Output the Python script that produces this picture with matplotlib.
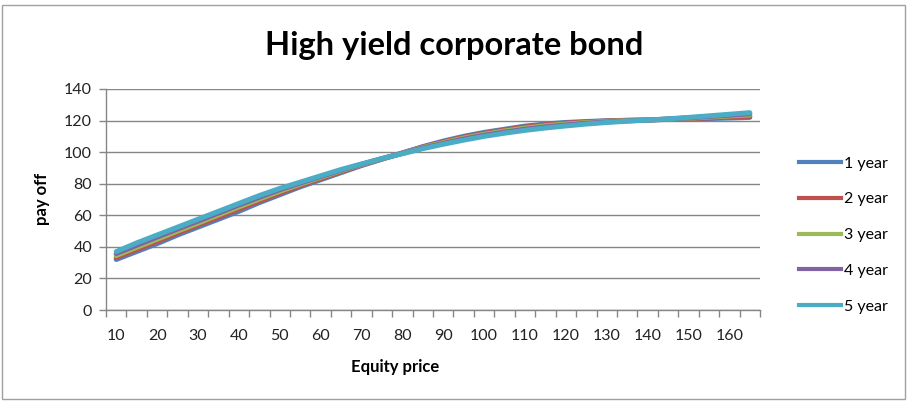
import matplotlib
matplotlib.use("Agg")
import matplotlib.pyplot as plt
from matplotlib.patches import Rectangle
from matplotlib.lines import Line2D
from matplotlib.ticker import MultipleLocator, FixedLocator

plt.rcParams['font.family'] = ['Lato', 'DejaVu Sans']

equity_price = [10, 15, 20, 25, 30, 35, 40, 45, 50, 55, 60, 65, 70, 75, 80, 85,
                90, 95, 100, 105, 110, 115, 120, 125, 130, 135, 140, 145, 150, 155, 160, 165]

year1 = [32, 37, 42, 47.5, 52.5, 57.5, 62.5, 68, 73, 78, 82.5, 87, 91.5, 95.5, 99.5, 103.5,
         107, 110, 112.5, 114.5, 116.5, 117.8, 118.8, 119.4, 119.9, 120.2, 120.4, 120.7, 121, 121.3, 121.6, 122]
year2 = [33.3, 38.3, 43.4, 48.7, 53.8, 58.8, 64, 69, 74, 78.8, 83.2, 87.6, 91.8, 95.7, 99.4, 103.2,
         106.5, 109.5, 111.9, 114, 115.9, 117.3, 118.4, 119.1, 119.7, 120.1, 120.4, 120.8, 121.2, 121.7, 122.2, 122.7]
year3 = [34.5, 39.7, 44.8, 50, 55, 60.2, 65.3, 70.3, 75.2, 79.7, 84, 88.2, 92.1, 95.8, 99.3, 102.9,
         106, 108.9, 111.3, 113.4, 115.2, 116.7, 117.8, 118.7, 119.4, 120, 120.4, 120.9, 121.5, 122.2, 122.9, 123.6]
year4 = [35.8, 41, 46.2, 51.3, 56.3, 61.4, 66.5, 71.4, 76.2, 80.4, 84.5, 88.6, 92.3, 95.9, 99.2, 102.6,
         105.5, 108.3, 110.7, 112.7, 114.5, 116, 117.2, 118.3, 119.1, 119.8, 120.3, 121, 121.7, 122.6, 123.4, 124.3]
year5 = [37, 42.5, 47.5, 52.5, 57.5, 62.5, 67.5, 72.5, 77, 81, 85, 89, 92.5, 96, 99, 102.2,
         105, 107.6, 110, 112, 113.8, 115.3, 116.6, 117.8, 118.8, 119.6, 120.3, 121.1, 122, 123, 124, 125]

series_names = ["1 year", "2 year", "3 year", "4 year", "5 year"]
series_values = [year1, year2, year3, year4, year5]
colors = ["#4F81BD", "#C0504D", "#9BBB59", "#8064A2", "#4BACC6"]
x_tick_labels = [10, 20, 30, 40, 50, 60, 70, 80, 90, 100, 110, 120, 130, 140, 150, 160]

W, H = 909, 404
fig = plt.figure(figsize=(W / 100, H / 100), dpi=100)
fig.patch.set_facecolor("white")

# outer chart border
fig.add_artist(Rectangle((2 / W, 1 - 399 / H), 903 / W, 394 / H, transform=fig.transFigure,
                         fill=False, edgecolor="#A0A0A0", linewidth=1.0))

left, right, top, bottom = 106, 760, 89, 310
ax = fig.add_axes([left / W, 1 - bottom / H, (right - left) / W, (bottom - top) / H])

grid_c = "#868686"
for i, (name, vals) in enumerate(zip(series_names, series_values)):
    ax.plot(equity_price, vals, color=colors[i], linewidth=3.6, label=name,
            solid_capstyle="round", zorder=3 + i)

ax.set_xlim(7.5, 167.5)
ax.set_ylim(0, 140)
ax.yaxis.set_major_locator(MultipleLocator(20))
ax.yaxis.grid(True, color=grid_c, linewidth=1.0)
ax.set_axisbelow(True)

ax.xaxis.set_major_locator(FixedLocator(x_tick_labels))
ax.set_xticklabels([str(v) for v in x_tick_labels])
ax.xaxis.set_minor_locator(FixedLocator([7.5 + 5 * k for k in range(33)]))
ax.tick_params(axis="x", which="major", length=0, pad=14, labelsize=11.5, labelcolor="#222222")
ax.tick_params(axis="x", which="minor", length=5, width=1, color=grid_c, direction="out")
ax.tick_params(axis="y", which="major", length=5, width=1, color=grid_c, pad=5,
               labelsize=11.5, labelcolor="#222222")

for s in ["top", "right"]:
    ax.spines[s].set_visible(False)
for s in ["left", "bottom"]:
    ax.spines[s].set_color(grid_c)
    ax.spines[s].set_linewidth(1.0)

fig.text(454 / W, 1 - 45 / H, "High yield corporate bond", ha="center", va="center",
         fontsize=23.5, fontweight="bold")
fig.text(395 / W, 1 - 367 / H, "Equity price", ha="center", va="center",
         fontsize=12, fontweight="bold")
fig.text(42 / W, 1 - 199 / H, "pay off", ha="center", va="center", rotation=90,
         fontsize=12, fontweight="bold")

handles = [Line2D([0], [0], color=c, linewidth=3.0) for c in colors]
fig.legend(handles, series_names, loc="center left", bbox_to_anchor=(791 / W, 1 - 235 / H),
           frameon=False, fontsize=11.5, handlelength=2.6, handletextpad=0.2,
           labelspacing=1.35, borderpad=0)

fig.savefig("out.png", dpi=100)
